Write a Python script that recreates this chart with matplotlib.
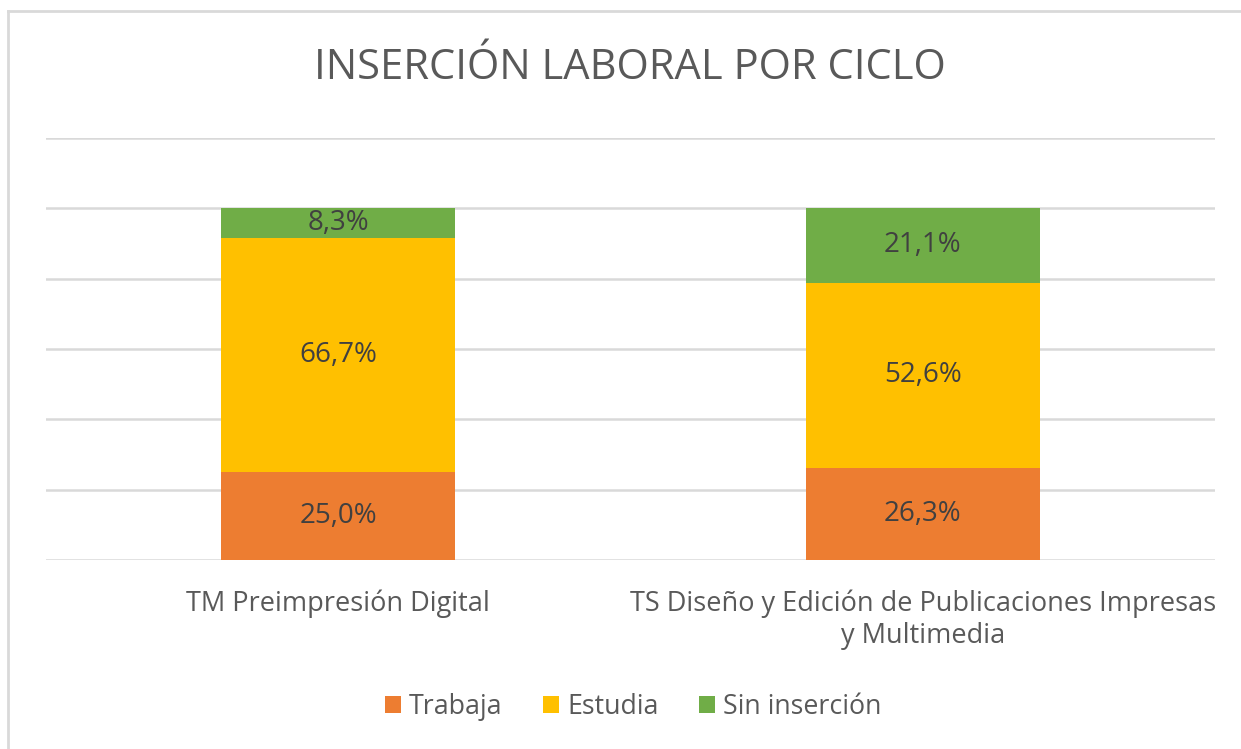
import matplotlib
matplotlib.use("Agg")
import matplotlib.pyplot as plt
from matplotlib.lines import Line2D
from matplotlib.patches import Patch

categories = ["TM Preimpresión Digital",
              "TS Diseño y Edición de Publicaciones Impresas\ny Multimedia"]
series_names = ["Trabaja", "Estudia", "Sin inserción"]
trabaja = [25.0, 26.3]
estudia = [66.7, 52.6]
sin_insercion = [8.3, 21.1]
colors = ["#ED7D31", "#FFC000", "#70AD47"]
title = "INSERCIÓN LABORAL POR CICLO"

plt.rcParams['font.family'] = ['Open Sans', 'DejaVu Sans']
W, H = 1241, 749
fig = plt.figure(figsize=(W / 100, H / 100), dpi=100)
fig.patch.set_facecolor("white")

# chart border (left and top edges visible)
fig.add_artist(Line2D([7.5 / W, 7.5 / W], [0, 1 - 10.5 / H], transform=fig.transFigure,
                      color="#D9D9D9", linewidth=2))
fig.add_artist(Line2D([7.5 / W, 1], [1 - 10.5 / H, 1 - 10.5 / H], transform=fig.transFigure,
                      color="#D9D9D9", linewidth=2))

ax = fig.add_axes([46 / W, 1 - 560 / H, (1215 - 46) / W, (560 - 138) / H])
x = list(range(len(categories)))
series = [trabaja, estudia, sin_insercion]
bottom = [0.0] * len(categories)
for name, vals, c in zip(series_names, series, colors):
    ax.bar(x, vals, width=0.4, bottom=bottom, color=c, label=name, zorder=3)
    for xi, v, b in zip(x, vals, bottom):
        ax.text(xi, b + v / 2, f"{v:.1f}%".replace(".", ","), ha="center", va="center",
                fontsize=20, color="#404040", zorder=4)
    bottom = [b + v for b, v in zip(bottom, vals)]

ax.set_xlim(-0.5, 1.5)
ax.set_ylim(0, 120)
ax.set_yticks(range(0, 121, 20))
ax.yaxis.grid(True, color="#D9D9D9", linewidth=1.8, zorder=0)
ax.set_axisbelow(True)
for s in ax.spines.values():
    s.set_visible(False)
ax.tick_params(axis="y", left=False, labelleft=False)
ax.tick_params(axis="x", bottom=False, pad=18)
ax.set_xticks(x)
ax.set_xticklabels(categories, fontsize=19.5, color="#595959", linespacing=1.15)

fig.text(630 / W, 1 - 68 / H, title, ha="center", va="center", fontsize=30, color="#595959")

handles = [Patch(facecolor=c, label=n) for n, c in zip(series_names, colors)]
fig.legend(handles=handles, loc="center", bbox_to_anchor=(633 / W, 1 - 707 / H), ncol=3,
           frameon=False, fontsize=19.3, labelcolor="#595959", handlelength=0.6, handleheight=0.6,
           handletextpad=0.3, columnspacing=1.5)

fig.savefig("out.png", dpi=100, facecolor="white")
